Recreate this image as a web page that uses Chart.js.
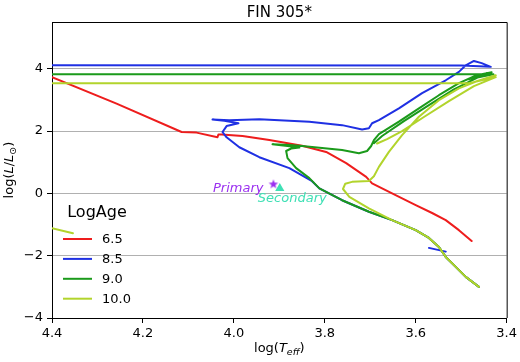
<!DOCTYPE html>
<html><head><meta charset="utf-8">
<script src="https://cdn.jsdelivr.net/npm/chart.js@4/dist/chart.umd.min.js"></script>
<style>html,body{margin:0;padding:0;background:#fff;}canvas{display:block;}</style>
</head><body>
<canvas id="c" width="520" height="362" style="width:520px;height:362px"></canvas>
<script>
// ---------- data ----------
const chartTitle = 'FIN 305*';
const legendTitle = 'LogAge';
const ageLabels = ['6.5', '8.5', '9.0', '10.0'];
const xTicks = [4.4, 4.2, 4.0, 3.8, 3.6, 3.4];
const yTicks = [-4, -2, 0, 2, 4];

// logAge 6.5
const teff65 = [3.477, 3.505, 3.534, 3.564, 3.600, 3.652, 3.696, 3.709, 3.753, 3.797, 3.850, 3.922, 3.981, 4.027, 4.034, 4.036, 4.082, 4.115, 4.258, 4.400];
const lum65  = [-1.53, -1.18, -0.86, -0.63, -0.38, 0.00, 0.32, 0.53, 0.97, 1.33, 1.53, 1.71, 1.84, 1.89, 1.89, 1.80, 1.95, 1.97, 2.88, 3.73];
// logAge 8.5
const teff85 = [3.571, 3.534, null, 3.461, 3.490, 3.512, 3.534, 3.549, 3.571, 3.600, 3.652, 3.703, 3.762, 3.812, 3.828, 3.878, 3.944, 3.988, 4.016, 4.025, 4.016, 3.990, 4.021, 4.047, 4.010, 3.944, 3.834, 3.762, 3.718, 3.703, 3.696, 3.681, 3.637, 3.586, 3.534, 3.505, 3.490, 3.472, 3.455, 3.435, 3.499, 4.400];
const lum85  = [-1.75, -1.87, null, -3.00, -2.68, -2.36, -2.04, -1.72, -1.43, -1.18, -0.86, -0.59, -0.22, 0.16, 0.39, 0.81, 1.16, 1.48, 1.80, 1.97, 2.16, 2.25, 2.33, 2.37, 2.35, 2.38, 2.30, 2.19, 2.05, 2.09, 2.25, 2.35, 2.73, 3.22, 3.63, 3.90, 4.11, 4.25, 4.18, 4.06, 4.10, 4.11];
// logAge 9.0
const teff90 = [3.461, 3.490, 3.512, 3.534, 3.549, 3.571, 3.600, 3.652, 3.703, 3.762, 3.812, 3.834, 3.863, 3.882, 3.885, 3.874, 3.856, 3.882, 3.915, 3.878, 3.850, 3.762, 3.725, 3.707, 3.698, 3.692, 3.681, 3.637, 3.593, 3.549, 3.505, 3.466, 3.433, null, 3.692, 3.674, 3.626, 3.571, 3.516, 3.472, 3.450, 3.483, 3.444, 3.470, 3.429, 4.400];
const lum90  = [-3.00, -2.68, -2.36, -2.04, -1.72, -1.43, -1.18, -0.86, -0.59, -0.22, 0.16, 0.49, 0.81, 1.13, 1.36, 1.44, 1.47, 1.52, 1.58, 1.55, 1.52, 1.39, 1.29, 1.36, 1.52, 1.71, 1.90, 2.30, 2.73, 3.15, 3.54, 3.79, 3.89, null, 1.61, 1.84, 2.32, 2.83, 3.34, 3.66, 3.82, 3.66, 3.86, 3.70, 3.82, 3.82];
// logAge 10.0
const teff100 = [4.400, 4.354, null, 3.461, 3.490, 3.512, 3.534, 3.549, 3.571, 3.600, 3.652, 3.703, 3.746, 3.760, 3.755, 3.740, 3.703, 3.692, 3.681, 3.659, 3.630, 3.593, 3.549, 3.505, 3.466, 3.424, null, 3.685, 3.663, 3.630, 3.582, 3.527, 3.472, 3.424, 3.483, 4.400];
const lum100  = [-1.12, -1.28, null, -3.00, -2.68, -2.36, -2.04, -1.72, -1.43, -1.18, -0.86, -0.48, -0.11, 0.14, 0.31, 0.37, 0.40, 0.55, 0.85, 1.33, 1.87, 2.46, 2.99, 3.37, 3.60, 3.79, null, 1.60, 1.74, 2.00, 2.45, 2.96, 3.44, 3.73, 3.535, 3.535];

// stars
const starNames = ['Primary', 'Secondary'];
const starTeff = [3.913, 3.899];
const starLum = [0.29, 0.165];

// ---------- styles ----------
const FONT = '"DejaVu Sans", "Liberation Sans", sans-serif';
const ageColors = ['#ee1d1d', '#1f30e3', '#1b9a1b', '#b2d42c'];
const starColors = ['#9b30f0', '#3fe0b5'];

function toPts(ts, ls) {
  let lastX = ts[0];
  return ts.map((t, i) => {
    if (t === null || ls[i] === null) return { x: lastX, y: null };
    lastX = t;
    return { x: t, y: ls[i] };
  });
}

// star-shaped point image
function makeStar(color, r) {
  const c = document.createElement('canvas');
  const s = Math.ceil(r * 2 + 2);
  c.width = s; c.height = s;
  const g = c.getContext('2d');
  g.fillStyle = color;
  g.beginPath();
  for (let k = 0; k < 10; k++) {
    const rad = k % 2 === 0 ? r : r * 0.42;
    const a = -Math.PI / 2 + k * Math.PI / 5;
    const px = s / 2 + rad * Math.cos(a), py = s / 2 + rad * Math.sin(a);
    if (k === 0) g.moveTo(px, py); else g.lineTo(px, py);
  }
  g.closePath(); g.fill();
  return c;
}

const series = [[teff65, lum65], [teff85, lum85], [teff90, lum90], [teff100, lum100]];
const datasets = series.map((s, i) => ({
  label: ageLabels[i],
  data: toPts(s[0], s[1]),
  showLine: true,
  borderColor: ageColors[i],
  backgroundColor: ageColors[i],
  borderWidth: 2,
  pointRadius: 0,
  pointHoverRadius: 0,
  borderJoinStyle: 'round',
  borderCapStyle: 'round',
  spanGaps: false,
  tension: 0,
  order: 10 - i
}));
datasets.push({
  label: starNames[0],
  data: [{ x: starTeff[0], y: starLum[0] }],
  pointStyle: makeStar(starColors[0], 5),
  pointRadius: 5,
  showLine: false,
  order: 0
});
datasets.push({
  label: starNames[1],
  data: [{ x: starTeff[1], y: starLum[1] }],
  pointStyle: 'triangle',
  pointRadius: 5.3,
  backgroundColor: starColors[1],
  borderColor: starColors[1],
  borderWidth: 0,
  showLine: false,
  order: 0
});

function drawRuns(ctx, runs, x, y) {
  let w = 0;
  runs.forEach(r => { ctx.font = r.font; r.w = ctx.measureText(r.t).width; w += r.w; });
  let cx = x - w / 2;
  ctx.textAlign = 'left';
  ctx.textBaseline = 'alphabetic';
  runs.forEach(r => { ctx.font = r.font; ctx.fillText(r.t, cx, y + (r.dy || 0)); cx += r.w; });
}

const deco = {
  id: 'deco',
  afterDraw(chart) {
    const { ctx, chartArea: a, scales: { x, y } } = chart;
    ctx.save();
    // top & right spines
    ctx.strokeStyle = '#000'; ctx.lineWidth = 1;
    ctx.beginPath();
    ctx.moveTo(a.left, a.top + 0.5); ctx.lineTo(a.right + 0.5, a.top + 0.5);
    ctx.lineTo(a.right + 0.5, a.bottom);
    ctx.stroke();

    // title
    ctx.fillStyle = '#000';
    ctx.font = '15px ' + FONT;
    ctx.textAlign = 'center'; ctx.textBaseline = 'alphabetic';
    ctx.fillText(chartTitle, (a.left + a.right) / 2, 16.5);

    // x axis label  log(T_eff)
    const n13 = '13px ' + FONT, i13 = 'italic 13px ' + FONT, i9 = 'italic 9.5px ' + FONT;
    drawRuns(ctx, [{ t: 'log(', font: n13 }, { t: 'T', font: i13 }, { t: 'eff', font: i9, dy: 3 }, { t: ')', font: n13 }],
      (a.left + a.right) / 2, 352);

    // y axis label  log(L/L_sun)
    ctx.save();
    ctx.translate(12.5, (a.top + a.bottom) / 2);
    ctx.rotate(-Math.PI / 2);
    drawRuns(ctx, [{ t: 'log(', font: n13 }, { t: 'L', font: i13 }, { t: '/', font: n13 }, { t: 'L', font: i13 },
      { t: '\u2299', font: '9.5px ' + FONT, dy: 3 }, { t: ')', font: n13 }], 0, 0);
    ctx.restore();

    // legend
    ctx.font = '16px ' + FONT;
    ctx.textAlign = 'center'; ctx.textBaseline = 'middle';
    ctx.fillText(legendTitle, a.left + 45, 213);
    ctx.font = '13px ' + FONT;
    ctx.textAlign = 'left';
    ageLabels.forEach((lab, i) => {
      const yy = 239 + i * 19.9;
      ctx.strokeStyle = ageColors[i]; ctx.lineWidth = 2;
      ctx.beginPath(); ctx.moveTo(a.left + 11, yy); ctx.lineTo(a.left + 40, yy); ctx.stroke();
      ctx.fillStyle = '#000';
      ctx.fillText(lab, a.left + 50, yy + 0.5);
    });

    // star labels
    const p0x = x.getPixelForValue(starTeff[0]), p0y = y.getPixelForValue(starLum[0]);
    const p1x = x.getPixelForValue(starTeff[1]), p1y = y.getPixelForValue(starLum[1]);
    ctx.font = 'italic 13px ' + FONT;
    ctx.textBaseline = 'alphabetic';
    ctx.fillStyle = starColors[0];
    ctx.textAlign = 'right';
    ctx.fillText(starNames[0], p0x - 10, p0y + 8);
    ctx.fillStyle = starColors[1];
    ctx.textAlign = 'center';
    ctx.fillText(starNames[1], p1x + 12.5, p1y + 14);
    ctx.restore();
  }
};

Chart.defaults.font.family = FONT;
Chart.defaults.font.size = 13;
Chart.defaults.color = '#000';

new Chart(document.getElementById('c'), {
  type: 'scatter',
  data: { datasets },
  options: {
    responsive: false,
    animation: false,
    events: [],
    layout: { padding: { left: 0, right: 12, top: 22, bottom: 0 } },
    plugins: { legend: { display: false }, title: { display: false }, tooltip: { enabled: false } },
    scales: {
      x: {
        type: 'linear', reverse: true, min: 3.4, max: 4.4,
        afterBuildTicks: s => { s.ticks = xTicks.map(v => ({ value: v })); },
        afterFit: s => { s.height = 44; },
        ticks: { color: '#000', padding: 3, maxRotation: 0, autoSkip: false, font: { size: 13 },
          callback: v => Number(v).toFixed(1) },
        grid: { drawOnChartArea: false, drawTicks: true, tickLength: 5, tickColor: '#000', tickWidth: 1 },
        border: { display: true, color: '#000', width: 1 }
      },
      y: {
        type: 'linear', min: -4, max: 5.5,
        afterBuildTicks: s => { s.ticks = yTicks.map(v => ({ value: v })); },
        afterFit: s => { s.width = 52; },
        ticks: { color: '#000', padding: 4, autoSkip: false, font: { size: 13 },
          callback: v => String(v).replace('-', '\u2212') },
        grid: { color: '#b0b0b0', lineWidth: 1, drawTicks: true, tickLength: 5, tickColor: '#000', tickWidth: 1 },
        border: { display: true, color: '#000', width: 1 }
      }
    }
  },
  plugins: [deco]
});
</script>
</body></html>
